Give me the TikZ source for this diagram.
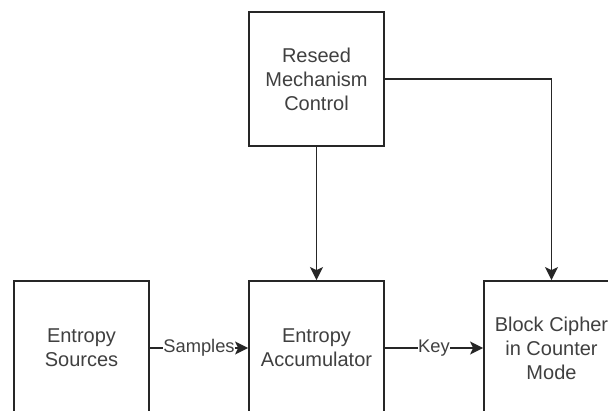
\documentclass[tikz,border=0pt]{standalone}
\usepackage{fontspec}
\setmainfont{Liberation Sans}
\usetikzlibrary{arrows.meta}
\begin{document}
\begin{tikzpicture}[x=1pt,y=-1pt,
  blockbox/.style={draw=black!85, line width=1.8pt, fill=white, minimum width=135pt, minimum height=134pt,
    inner sep=0pt, align=center, text=black!75, font=\fontsize{20}{24}\selectfont},
  conn/.style={draw=black!85, line width=1.7pt, -{Stealth[length=13pt,width=13pt,inset=3pt]}},
  lbl/.style={fill=white, inner sep=0.5pt, text=black!75, font=\fontsize{18.3}{22}\selectfont}]
\useasboundingbox (0,0) rectangle (608,410);
\clip (0,0) rectangle (608,410);
\fill[white] (0,0) rectangle (608,410);
\node[blockbox] (reseed) at (316.5,79) {Reseed\\Mechanism\\Control};
\node[blockbox] (src) at (81.5,348) {Entropy\\Sources};
\node[blockbox] (acc) at (316.5,348) {Entropy\\Accumulator};
\node[blockbox] (ciph) at (551.5,348) {Block Cipher\\in Counter\\Mode};
\draw[conn] (src.east) -- node[lbl] {Samples} (acc.west);
\draw[conn] (acc.east) -- node[lbl] {Key} (ciph.west);
\draw[conn] (reseed.south) -- (acc.north);
\draw[conn] (reseed.east) -| (ciph.north);
\end{tikzpicture}
\end{document}
